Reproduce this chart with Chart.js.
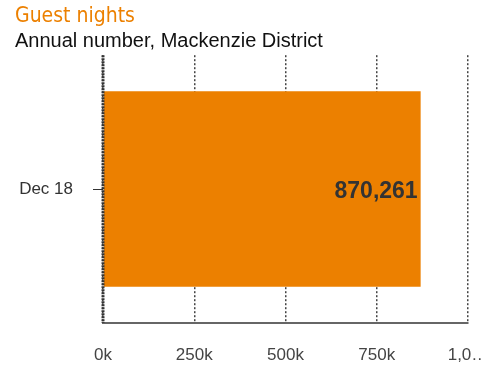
<!DOCTYPE html>
<html>
<head>
<meta charset="utf-8">
<script src="https://cdn.jsdelivr.net/npm/chart.js@4/dist/chart.umd.min.js"></script>
<style>
	html, body { margin: 0; padding: 0; background: #fff; }
</style>
</head>
<body>
<canvas id="chart" width="482" height="365"></canvas>
<script>
// Guest nights - annual number, Mackenzie District
var categories = ['Dec 18'];
var guestNights = [870261];
var tickLabels = ['0k', '250k', '500k', '750k', '1,0\u2026'];
var tickValues = [0, 250000, 500000, 750000, 1000000];

var orange = '#ec8000';
var sans = '"Liberation Sans", Arial, sans-serif';

// Value label inside the end of the bar
var valueLabels = {
	id: 'valueLabels',
	afterDatasetsDraw: function (chart) {
		var ctx = chart.ctx;
		var meta = chart.getDatasetMeta(0);
		ctx.save();
		ctx.font = 'bold 23px ' + sans;
		ctx.fillStyle = '#333333';
		ctx.textAlign = 'right';
		ctx.textBaseline = 'middle';
		meta.data.forEach(function (bar, i) {
			ctx.fillText(guestNights[i].toLocaleString('en-US'), bar.x - 3, bar.y + 3);
		});
		ctx.restore();
	}
};

// Thick dashed category axis line at zero
var zeroAxis = {
	id: 'zeroAxis',
	afterDatasetsDraw: function (chart) {
		var ctx = chart.ctx;
		var area = chart.chartArea;
		var x = chart.scales.x.getPixelForValue(0);
		ctx.save();
		ctx.strokeStyle = '#333333';
		ctx.lineWidth = 3;
		ctx.setLineDash([2, 1]);
		ctx.beginPath();
		ctx.moveTo(x, area.top);
		ctx.lineTo(x, area.bottom);
		ctx.stroke();
		ctx.restore();
	}
};

new Chart(document.getElementById('chart'), {
	type: 'bar',
	data: {
		labels: categories,
		datasets: [{
			data: guestNights,
			backgroundColor: orange,
			borderWidth: 0,
			barPercentage: 0.73,
			categoryPercentage: 1
		}]
	},
	plugins: [valueLabels, zeroAxis],
	options: {
		indexAxis: 'y',
		responsive: false,
		animation: false,
		layout: { padding: { left: 15, right: 14, top: 0, bottom: 0 } },
		plugins: {
			legend: { display: false },
			tooltip: { enabled: false },
			title: {
				display: true,
				text: 'Guest nights',
				align: 'start',
				color: orange,
				font: { family: '"Liberation Sans Narrow", "DejaVu Sans Condensed", sans-serif', size: 21, weight: 'normal' },
				padding: { top: 4, bottom: 0 }
			},
			subtitle: {
				display: true,
				text: 'Annual number, Mackenzie District',
				align: 'start',
				color: '#111111',
				font: { family: sans, size: 20 },
				padding: { top: 0, bottom: 2 }
			}
		},
		scales: {
			x: {
				min: 0,
				max: 1000000,
				afterBuildTicks: function (scale) {
					scale.ticks = tickValues.map(function (v) { return { value: v }; });
				},
				afterFit: function (scale) {
					scale.paddingLeft = 0;
					scale.paddingRight = 0;
					scale.height = 42;
				},
				grid: {
					color: '#444444',
					lineWidth: 1.5,
					drawTicks: false
				},
				border: { display: true, color: '#666666', width: 2, dash: [2, 2] },
				ticks: {
					padding: 22,
					color: '#444444',
					maxRotation: 0,
					autoSkip: false,
					font: { family: sans, size: 17 },
					callback: function (value, index) { return tickLabels[index]; }
				}
			},
			y: {
				afterFit: function (scale) {
					scale.width = 88;
				},
				grid: {
					offset: false,
					drawOnChartArea: false,
					drawTicks: true,
					tickLength: 10,
					color: '#333333',
					lineWidth: 1
				},
				border: { display: false },
				ticks: {
					padding: 20,
					color: '#333333',
					font: { family: sans, size: 17 }
				}
			}
		}
	}
});
</script>
</body>
</html>
